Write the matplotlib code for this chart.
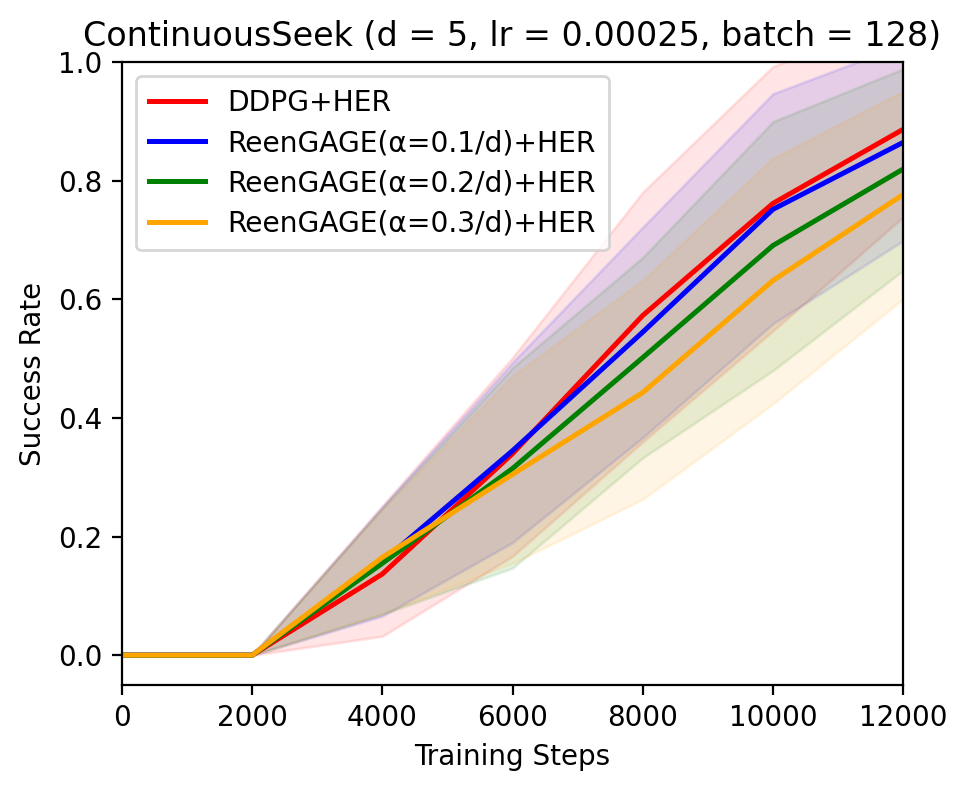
import matplotlib
matplotlib.use("Agg")
import matplotlib.pyplot as plt

steps = [0, 2000, 4000, 6000, 8000, 10000, 12000]
labels = ["DDPG+HER", "ReenGAGE(α=0.1/d)+HER", "ReenGAGE(α=0.2/d)+HER", "ReenGAGE(α=0.3/d)+HER"]
colors = ["red", "blue", "green", "orange"]

mean_ddpg = [0, 0, 0.137, 0.340, 0.573, 0.762, 0.887]
mean_a01 = [0, 0, 0.158, 0.345, 0.545, 0.752, 0.865]
mean_a02 = [0, 0, 0.155, 0.315, 0.502, 0.691, 0.820]
mean_a03 = [0, 0, 0.165, 0.305, 0.443, 0.632, 0.777]

low_ddpg = [0, 0, 0.032, 0.167, 0.360, 0.547, 0.739]
low_a01 = [0, 0, 0.066, 0.190, 0.367, 0.559, 0.699]
low_a02 = [0, 0, 0.069, 0.147, 0.333, 0.480, 0.649]
low_a03 = [0, 0, 0.070, 0.155, 0.263, 0.424, 0.601]

up_ddpg = [0, 0, 0.252, 0.502, 0.781, 0.993, 1.080]
up_a01 = [0, 0, 0.250, 0.494, 0.722, 0.947, 1.030]
up_a02 = [0, 0, 0.248, 0.485, 0.671, 0.900, 0.989]
up_a03 = [0, 0, 0.246, 0.471, 0.632, 0.838, 0.951]

means = [mean_ddpg, mean_a01, mean_a02, mean_a03]
lows = [low_ddpg, low_a01, low_a02, low_a03]
ups = [up_ddpg, up_a01, up_a02, up_a03]

fig = plt.figure(figsize=(4.84, 3.945), dpi=200)
ax = fig.add_axes([0.126, 0.132, 0.807, 0.789])

for m, c, lab in zip(means, colors, labels):
    ax.plot(steps, m, color=c, lw=1.8, label=lab)
for lo, hi, c in zip(lows, ups, colors):
    ax.fill_between(steps, lo, hi, color=c, alpha=0.1)

ax.set_xlim(0, 12000)
ax.set_ylim(-0.05, 1.0)
ax.set_xticks([0, 2000, 4000, 6000, 8000, 10000, 12000])
ax.set_yticks([0.0, 0.2, 0.4, 0.6, 0.8, 1.0])
ax.tick_params(labelsize=10)
ax.set_xlabel("Training Steps", fontsize=10)
ax.set_ylabel("Success Rate", fontsize=10)
ax.set_title("ContinuousSeek (d = 5, lr = 0.00025, batch = 128)", fontsize=12)
ax.legend(loc="upper left", prop={"size": 10.15}, labelspacing=0.43, borderpad=0.45)

fig.savefig("out.png", dpi=200)
